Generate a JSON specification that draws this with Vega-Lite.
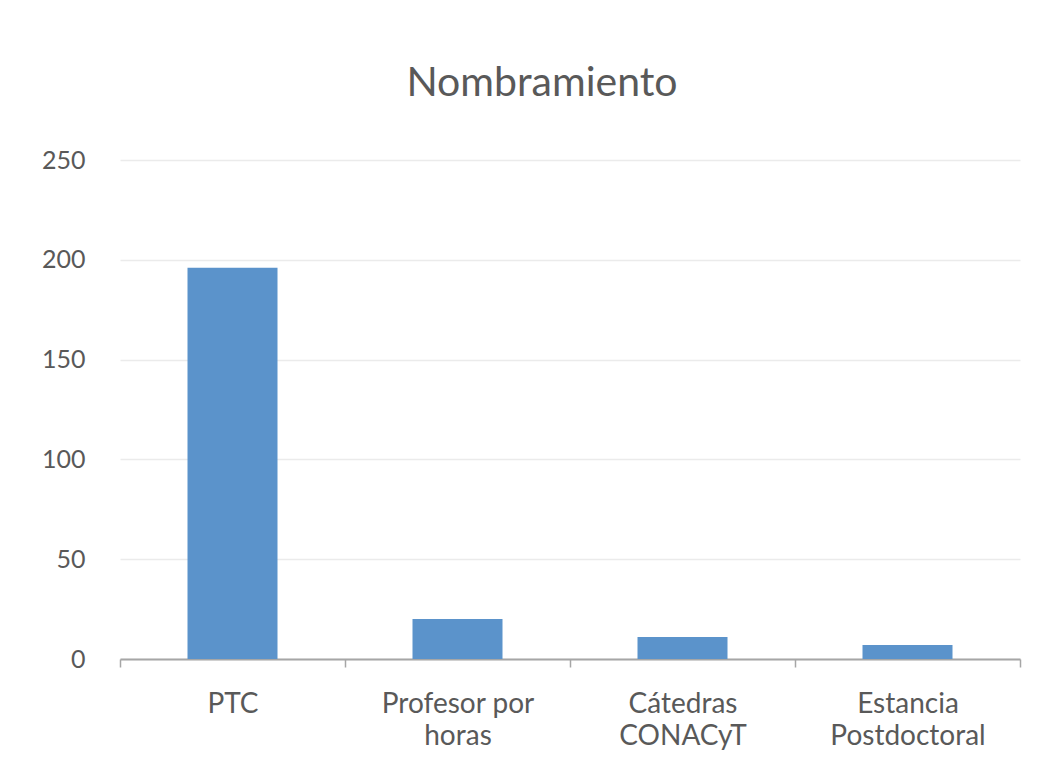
{
  "$schema": "https://vega.github.io/schema/vega-lite/v6.json",
  "autosize": "none",
  "width": 900,
  "height": 499,
  "padding": {"left": 120, "top": 160, "right": 37, "bottom": 116},
  "background": "white",
  "title": {
    "text": "Nombramiento",
    "anchor": "middle",
    "offset": 43,
    "dx": -28,
    "font": "Lato",
    "fontSize": 41,
    "fontWeight": "normal",
    "color": "#595959"
  },
  "data": {
    "values": [
      {"category": "PTC", "value": 196},
      {"category": "Profesor por|horas", "value": 20},
      {"category": "Cátedras|CONACyT", "value": 11},
      {"category": "Estancia|Postdoctoral", "value": 7}
    ]
  },
  "mark": {"type": "bar", "color": "#5B93CB", "width": {"band": 0.4}},
  "encoding": {
    "x": {
      "field": "category",
      "type": "nominal",
      "sort": null,
      "scale": {"paddingInner": 0, "paddingOuter": 0},
      "axis": {
        "title": null,
        "labelAngle": 0,
        "labelExpr": "split(datum.label, '|')",
        "labelFont": "Lato",
        "labelFontSize": 28,
        "labelColor": "#595959",
        "labelLineHeight": 32,
        "labelPadding": 23,
        "labelBaseline": "top",
        "tickBand": "extent",
        "tickSize": 8,
        "tickColor": "#a6a6a6",
        "tickWidth": 1.5,
        "domainColor": "#a6a6a6",
        "domainWidth": 2,
        "grid": false
      }
    },
    "y": {
      "field": "value",
      "type": "quantitative",
      "scale": {"domain": [0, 250]},
      "axis": {
        "title": null,
        "values": [0, 50, 100, 150, 200, 250],
        "labelFont": "Lato",
        "labelFontSize": 25,
        "labelColor": "#595959",
        "labelPadding": 35,
        "ticks": false,
        "domain": false,
        "grid": true,
        "gridColor": "#ebebeb",
        "gridWidth": 1.5
      }
    }
  },
  "config": {"view": {"stroke": null}}
}
